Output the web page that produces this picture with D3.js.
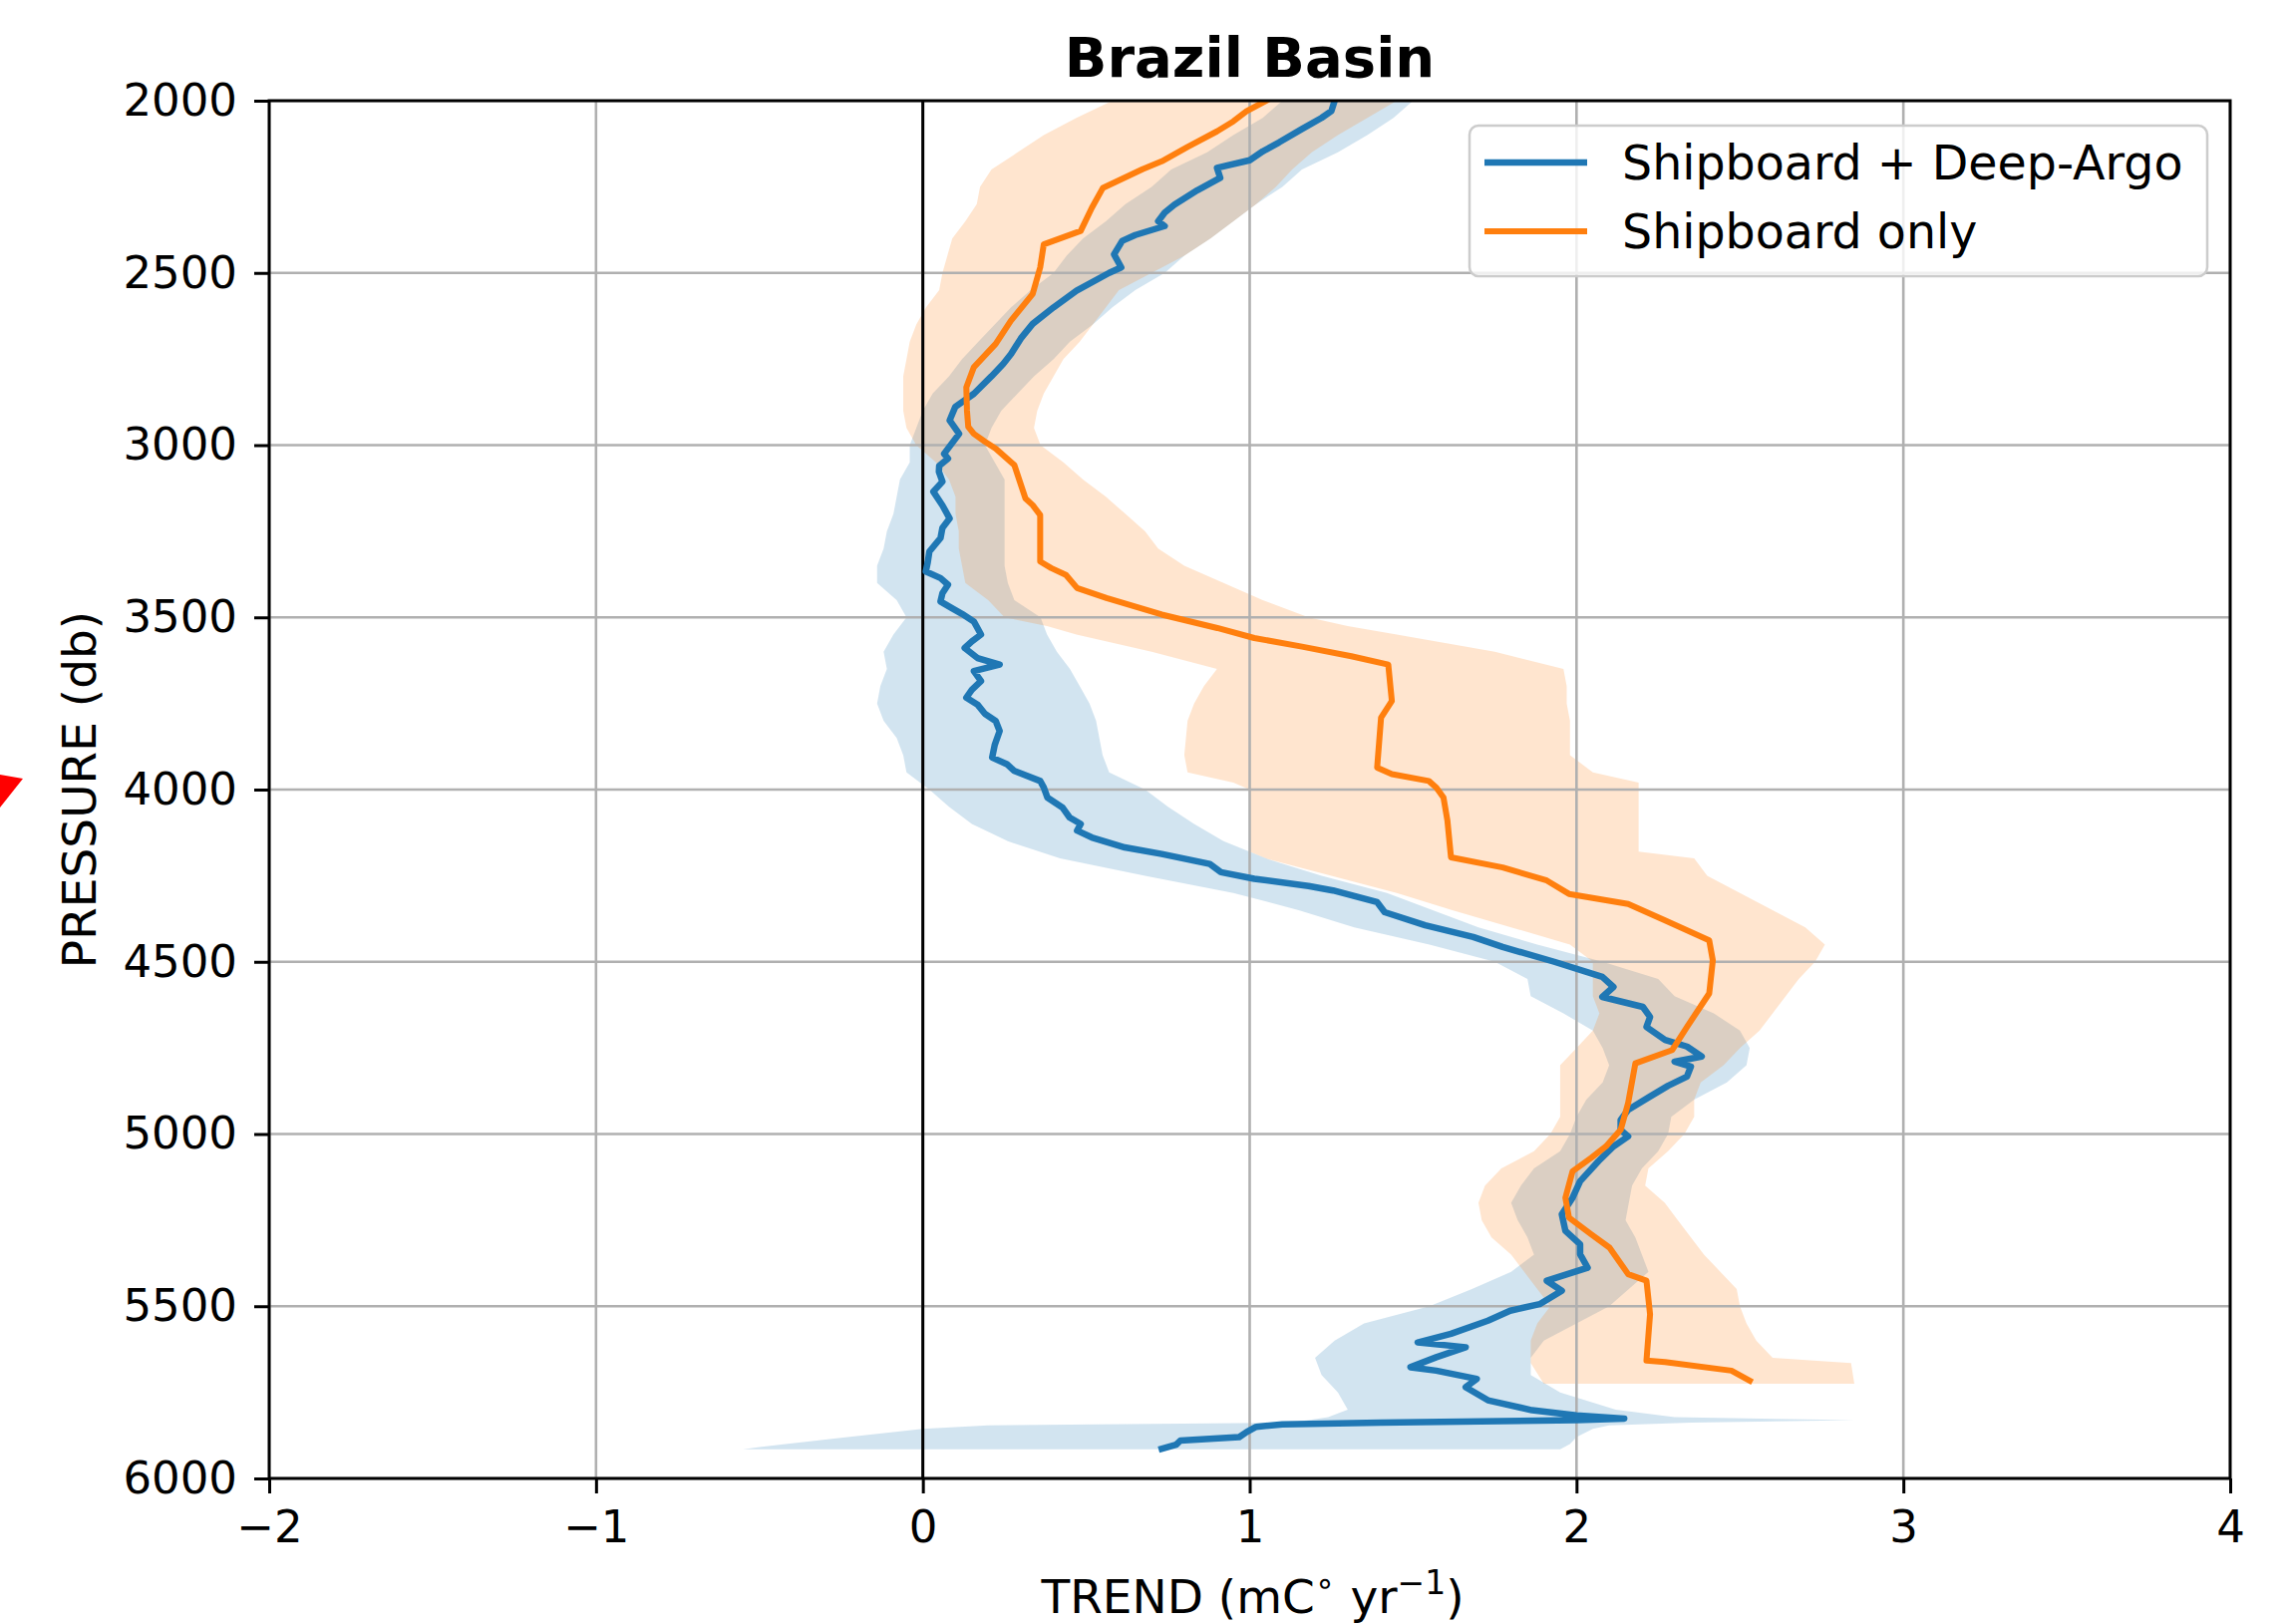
<!DOCTYPE html>
<html>
<head>
<meta charset="utf-8">
<script src="https://cdn.jsdelivr.net/npm/d3@7"></script>
<style>
  html, body { margin: 0; padding: 0; background: #ffffff; }
  svg { display: block; }
  text { font-family: "DejaVu Sans", sans-serif; fill: #000; }
</style>
</head>
<body>
<script>
// ---- Profile data: pressure (db) and warming trend (m°C per year) ----
const seriesNames = ["Shipboard + Deep-Argo", "Shipboard only"];
const seriesColors = ["#1f77b4", "#ff7f0e"];

// Shipboard + Deep-Argo: mean trend
const blueDepth = [2000,2030,2050,2082,2121,2147,2173,2195,2224,2260,2302,2325,2350,2364,2390,2407,2446,2484,2500,2552,2600,2648,2690,2735,2764,2800,2851,2889,2928,2967,2996,3025,3039,3060,3077,3106,3135,3175,3213,3240,3270,3309,3340,3367,3386,3405,3430,3454,3473,3490,3512,3550,3570,3589,3618,3637,3656,3685,3710,3733,3753,3780,3801,3830,3870,3907,3926,3946,3975,3994,4023,4052,4081,4100,4119,4139,4168,4187,4216,4240,4259,4280,4293,4327,4356,4394,4428,4457,4500,4544,4573,4602,4631,4660,4689,4727,4746,4775,4790,4804,4833,4860,4891,4930,4959,4988,5007,5036,5079,5137,5185,5233,5281,5320,5349,5388,5426,5455,5494,5513,5542,5580,5605,5619,5648,5677,5687,5711,5735,5773,5802,5817,5826,5831,5838,5843,5850,5865,5880,5890,5902,5914];
const blueTrend = [1.26,1.25,1.22,1.16,1.09,1.04,1.00,0.90,0.91,0.84,0.77,0.74,0.72,0.74,0.65,0.61,0.585,0.607,0.57,0.47,0.40,0.336,0.30,0.27,0.246,0.21,0.156,0.099,0.082,0.111,0.088,0.065,0.077,0.05,0.049,0.060,0.032,0.06,0.082,0.06,0.054,0.020,0.015,0.009,0.054,0.077,0.06,0.054,0.088,0.12,0.156,0.178,0.15,0.128,0.167,0.235,0.156,0.178,0.15,0.133,0.167,0.19,0.223,0.235,0.22,0.212,0.257,0.280,0.359,0.370,0.381,0.427,0.449,0.483,0.472,0.517,0.618,0.731,0.878,0.912,1.014,1.18,1.255,1.390,1.413,1.537,1.684,1.774,1.932,2.079,2.113,2.079,2.203,2.225,2.214,2.271,2.338,2.383,2.30,2.350,2.338,2.28,2.225,2.158,2.135,2.135,2.158,2.113,2.067,2.011,1.988,1.955,1.966,2.011,2.011,2.034,1.909,1.955,1.887,1.797,1.729,1.616,1.514,1.661,1.571,1.492,1.571,1.695,1.661,1.729,1.864,2.000,2.146,2.000,1.40,1.10,1.02,0.991,0.968,0.788,0.775,0.731];

// Shipboard + Deep-Argo: uncertainty envelope
const blueBandDepth = [2000,2050,2100,2150,2200,2250,2300,2350,2400,2450,2500,2550,2600,2650,2700,2750,2800,2850,2900,2950,3000,3050,3100,3150,3200,3250,3300,3350,3400,3450,3500,3550,3600,3650,3700,3750,3800,3850,3900,3950,4000,4050,4100,4150,4200,4250,4300,4350,4400,4450,4500,4550,4600,4650,4700,4750,4800,4850,4900,4950,5000,5050,5100,5150,5200,5250,5300,5350,5400,5450,5500,5550,5600,5650,5700,5750,5800,5822,5831,5838,5846,5856,5880,5900,5915];
const blueBandLow = [1.10,1.04,0.95,0.87,0.76,0.70,0.62,0.56,0.49,0.44,0.40,0.33,0.27,0.22,0.17,0.12,0.08,0.03,0.00,-0.02,-0.04,-0.04,-0.07,-0.08,-0.09,-0.11,-0.12,-0.14,-0.14,-0.08,-0.05,-0.09,-0.12,-0.11,-0.13,-0.14,-0.12,-0.08,-0.06,-0.05,0.02,0.08,0.15,0.26,0.42,0.68,0.95,1.15,1.32,1.55,1.75,1.85,1.86,1.96,2.05,2.08,2.10,2.08,2.03,2.00,1.98,1.95,1.87,1.83,1.80,1.82,1.85,1.87,1.80,1.68,1.55,1.35,1.26,1.20,1.22,1.27,1.30,1.24,1.18,1.12,0.20,0.00,-0.23,-0.42,-0.55];
const blueBandHigh = [1.50,1.44,1.36,1.27,1.16,1.10,1.02,0.95,0.88,0.80,0.74,0.65,0.58,0.52,0.45,0.40,0.34,0.29,0.24,0.21,0.19,0.22,0.25,0.25,0.25,0.25,0.25,0.25,0.26,0.28,0.36,0.38,0.41,0.45,0.48,0.51,0.53,0.54,0.55,0.57,0.68,0.75,0.83,0.92,1.05,1.22,1.42,1.56,1.70,1.88,2.08,2.25,2.30,2.42,2.50,2.53,2.52,2.46,2.36,2.29,2.28,2.25,2.20,2.17,2.16,2.15,2.18,2.20,2.22,2.16,2.10,2.00,1.90,1.86,1.86,1.95,2.12,2.30,2.85,2.35,2.10,2.05,2.00,1.98,1.95];

// Shipboard only: mean trend
const orangeDepth = [2000,2031,2060,2089,2134,2176,2199,2253,2311,2378,2417,2484,2561,2639,2706,2774,2832,2900,2947,2967,2990,3010,3058,3155,3174,3203,3338,3357,3377,3415,3444,3492,3531,3560,3585,3613,3637,3743,3791,3936,3955,3975,3994,4023,4090,4197,4226,4264,4303,4332,4380,4438,4496,4592,4689,4756,4795,4910,4988,5036,5069,5108,5185,5243,5291,5330,5407,5426,5523,5658,5662,5687,5716];
const orangeTrend = [1.05,0.99,0.95,0.90,0.81,0.731,0.672,0.551,0.517,0.483,0.370,0.359,0.336,0.269,0.223,0.156,0.133,0.135,0.139,0.156,0.19,0.223,0.280,0.314,0.336,0.359,0.359,0.393,0.438,0.472,0.562,0.731,0.901,1.014,1.16,1.311,1.424,1.435,1.402,1.390,1.435,1.548,1.571,1.593,1.605,1.616,1.774,1.909,1.977,2.158,2.271,2.406,2.417,2.406,2.338,2.293,2.180,2.158,2.135,2.09,2.045,1.988,1.966,1.977,2.045,2.101,2.158,2.214,2.225,2.214,2.271,2.474,2.530];

// Shipboard only: uncertainty envelope
const orangeBandDepth = [2000,2050,2100,2150,2200,2250,2300,2350,2400,2450,2500,2550,2600,2650,2700,2750,2800,2850,2900,2950,3000,3050,3100,3150,3200,3250,3300,3350,3400,3450,3500,3525,3550,3600,3650,3700,3750,3800,3900,3950,3980,4000,4100,4180,4200,4250,4300,4350,4400,4450,4500,4550,4600,4650,4700,4750,4800,4850,4900,4950,5000,5050,5100,5150,5200,5250,5300,5350,5400,5450,5500,5550,5600,5650,5665,5725];
const orangeBandLow = [0.58,0.47,0.37,0.29,0.21,0.175,0.165,0.13,0.09,0.075,0.06,0.05,0.01,-0.02,-0.04,-0.05,-0.06,-0.06,-0.06,-0.05,-0.02,0.04,0.08,0.10,0.10,0.11,0.11,0.12,0.13,0.20,0.25,0.38,0.47,0.70,0.90,0.86,0.83,0.81,0.80,0.81,0.95,1.00,1.00,1.00,1.05,1.25,1.45,1.62,1.80,1.98,2.05,2.05,2.05,2.07,2.05,2.00,1.95,1.95,1.95,1.95,1.92,1.87,1.77,1.72,1.70,1.71,1.74,1.80,1.84,1.88,1.92,1.88,1.86,1.86,1.86,1.90];
const orangeBandHigh = [1.45,1.36,1.27,1.19,1.13,1.08,1.02,0.95,0.88,0.80,0.70,0.60,0.56,0.52,0.48,0.43,0.40,0.37,0.35,0.34,0.36,0.43,0.49,0.56,0.62,0.68,0.72,0.80,0.92,1.04,1.18,1.30,1.45,1.75,1.96,1.97,1.97,1.98,1.98,2.05,2.19,2.19,2.19,2.19,2.36,2.40,2.50,2.60,2.70,2.76,2.73,2.68,2.64,2.60,2.56,2.50,2.45,2.38,2.36,2.36,2.33,2.28,2.22,2.21,2.27,2.31,2.35,2.39,2.44,2.49,2.50,2.52,2.55,2.60,2.84,2.85];

// Axis ticks and labels
const xTicks = [-2, -1, 0, 1, 2, 3, 4];
const xTickLabels = ["\u22122", "\u22121", "0", "1", "2", "3", "4"];
const yTicks = [2000, 2500, 3000, 3500, 4000, 4500, 5000, 5500, 6000];
const chartTitle = "Brazil Basin";
const yLabel = "PRESSURE (db)";

// ---- Layout ----
const W = 2297, H = 1629;
const plot = { left: 270, right: 2237, top: 101, bottom: 1483 };
const lineWidths = [6.5, 6];

const svg = d3.select("body").append("svg")
  .attr("width", W).attr("height", H)
  .attr("viewBox", `0 0 ${W} ${H}`);

svg.append("rect").attr("width", W).attr("height", H).attr("fill", "#ffffff");

const x = d3.scaleLinear().domain([-2, 4]).range([plot.left, plot.right]);
const y = d3.scaleLinear().domain([2000, 6000]).range([plot.top, plot.bottom]);

const zip2 = (d, v) => d.map((p, i) => ({ p, v: v[i] }));
const zip3 = (d, lo, hi) => d.map((p, i) => ({ p, lo: lo[i], hi: hi[i] }));

const blueLine = zip2(blueDepth, blueTrend);
const orangeLine = zip2(orangeDepth, orangeTrend);
const blueBand = zip3(blueBandDepth, blueBandLow, blueBandHigh);
const orangeBand = zip3(orangeBandDepth, orangeBandLow, orangeBandHigh);

const clipId = "plotClip";
svg.append("clipPath").attr("id", clipId)
  .append("rect")
  .attr("x", plot.left).attr("y", plot.top)
  .attr("width", plot.right - plot.left).attr("height", plot.bottom - plot.top);

const g = svg.append("g").attr("clip-path", `url(#${clipId})`);

// Shaded envelopes (horizontal fill between low and high trend)
const band = d3.area()
  .y(d => y(d.p))
  .x0(d => x(d.lo))
  .x1(d => x(d.hi));

g.append("path").datum(blueBand)
  .attr("d", band)
  .attr("fill", seriesColors[0]).attr("fill-opacity", 0.2);

g.append("path").datum(orangeBand)
  .attr("d", band)
  .attr("fill", seriesColors[1]).attr("fill-opacity", 0.2);

// Grid
g.append("g").selectAll("line").data(xTicks).join("line")
  .attr("x1", d => x(d)).attr("x2", d => x(d))
  .attr("y1", plot.top).attr("y2", plot.bottom)
  .attr("stroke", "#b0b0b0").attr("stroke-width", 2.6);

g.append("g").selectAll("line").data(yTicks).join("line")
  .attr("x1", plot.left).attr("x2", plot.right)
  .attr("y1", d => y(d)).attr("y2", d => y(d))
  .attr("stroke", "#b0b0b0").attr("stroke-width", 2.6);

// Zero-trend reference line
g.append("line")
  .attr("x1", x(0)).attr("x2", x(0))
  .attr("y1", plot.top).attr("y2", plot.bottom)
  .attr("stroke", "#000").attr("stroke-width", 3);

// Profiles
const line = d3.line().x(d => x(d.v)).y(d => y(d.p));

g.append("path").datum(blueLine)
  .attr("d", line)
  .attr("fill", "none").attr("stroke", seriesColors[0])
  .attr("stroke-width", lineWidths[0]).attr("stroke-linejoin", "round").attr("stroke-linecap", "square");

g.append("path").datum(orangeLine)
  .attr("d", line)
  .attr("fill", "none").attr("stroke", seriesColors[1])
  .attr("stroke-width", lineWidths[1]).attr("stroke-linejoin", "round").attr("stroke-linecap", "square");

// Axes
const xAxis = d3.axisBottom(x)
  .tickValues(xTicks)
  .tickFormat((d, i) => xTickLabels[i])
  .tickSize(15).tickPadding(17);

const yAxis = d3.axisLeft(y)
  .tickValues(yTicks)
  .tickFormat(d3.format("d"))
  .tickSize(15).tickPadding(17);

const gx = svg.append("g").attr("transform", `translate(0,${plot.bottom})`).call(xAxis);
const gy = svg.append("g").attr("transform", `translate(${plot.left},0)`).call(yAxis);

[gx, gy].forEach(ax => {
  ax.select(".domain").remove();
  ax.selectAll(".tick line").attr("stroke", "#000").attr("stroke-width", 3);
  ax.selectAll(".tick text")
    .attr("font-family", "DejaVu Sans, sans-serif")
    .attr("font-size", 45).attr("fill", "#000");
});

// Frame
svg.append("rect")
  .attr("x", plot.left).attr("y", plot.top)
  .attr("width", plot.right - plot.left).attr("height", plot.bottom - plot.top)
  .attr("fill", "none").attr("stroke", "#000").attr("stroke-width", 3);

// Title and axis labels
svg.append("text")
  .attr("x", (plot.left + plot.right) / 2).attr("y", 77)
  .attr("text-anchor", "middle")
  .attr("font-size", 56).attr("font-weight", "bold")
  .text(chartTitle);

svg.append("text")
  .attr("transform", `translate(96,${(plot.top + plot.bottom) / 2}) rotate(-90)`)
  .attr("text-anchor", "middle")
  .attr("font-size", 47)
  .text(yLabel);

const xl = svg.append("text")
  .attr("x", (plot.left + plot.right) / 2 + 3).attr("y", 1618)
  .attr("text-anchor", "middle")
  .attr("font-size", 47);
xl.append("tspan").text("TREND (mC");
xl.append("tspan").attr("dy", -19).attr("font-size", 33).text("\u2218");
xl.append("tspan").attr("dy", 19).text(" yr");
xl.append("tspan").attr("dy", -19).attr("font-size", 33).text("\u22121");
xl.append("tspan").attr("dy", 19).text(")");

// Marker arrow at the left edge pointing to 4000 db
const ay = y(4000);
svg.append("polygon")
  .attr("points", `0,${ay - 15} 23,${ay - 11} 0,${ay + 18}`)
  .attr("fill", "#ff0000");

// Legend
const leg = svg.append("g");
leg.append("rect")
  .attr("x", 1474).attr("y", 126)
  .attr("width", 740).attr("height", 151)
  .attr("rx", 9).attr("ry", 9)
  .attr("fill", "#ffffff").attr("fill-opacity", 0.8)
  .attr("stroke", "#cccccc").attr("stroke-width", 2.5);

seriesNames.forEach((name, i) => {
  const ly = 163 + i * 69;
  leg.append("line")
    .attr("x1", 1489).attr("x2", 1592)
    .attr("y1", ly).attr("y2", ly)
    .attr("stroke", seriesColors[i]).attr("stroke-width", lineWidths[i]);
  leg.append("text")
    .attr("x", 1627).attr("y", ly + 17)
    .attr("font-size", 47.5)
    .text(name);
});
</script>
</body>
</html>
